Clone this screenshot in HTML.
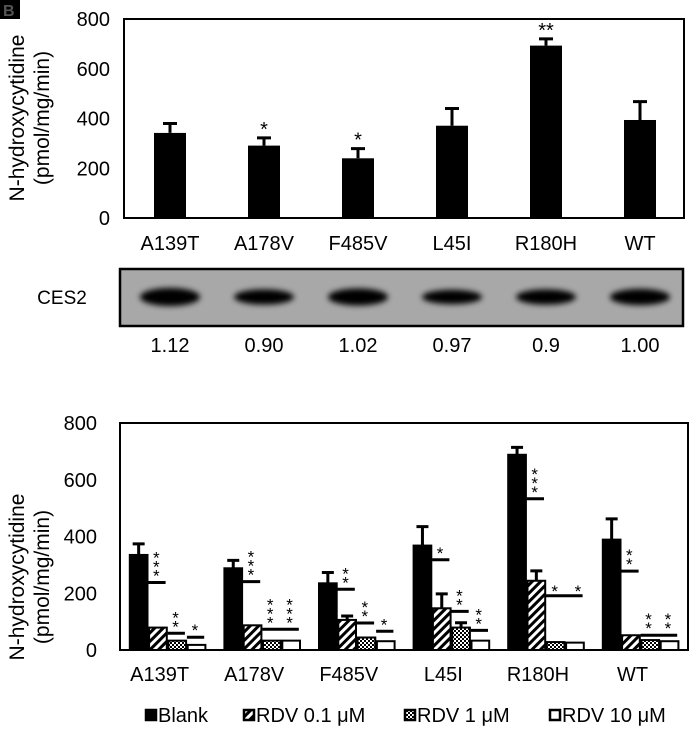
<!DOCTYPE html>
<html><head><meta charset="utf-8"><style>
body{margin:0;background:#fff;}
svg text{font-family:"Liberation Sans",sans-serif;}
</style></head><body>
<svg id="fig" width="690" height="728" viewBox="0 0 690 728" xmlns="http://www.w3.org/2000/svg">
<defs>
<pattern id="diag" width="6" height="6" patternUnits="userSpaceOnUse" patternTransform="rotate(45)">
<rect width="6" height="6" fill="#fff"/><rect width="3" height="6" fill="#000"/></pattern>
<pattern id="check" width="4" height="4" patternUnits="userSpaceOnUse">
<rect width="4" height="4" fill="#fff"/><rect width="2" height="2" fill="#000"/><rect x="2" y="2" width="2" height="2" fill="#000"/></pattern>
<filter id="blur" x="-30%" y="-80%" width="160%" height="260%"><feGaussianBlur stdDeviation="3"/></filter>
</defs>
<g>
<rect x="0" y="0" width="20" height="19" fill="#000"/>
<text x="3" y="16" font-size="16" font-weight="bold" fill="#555">B</text>
</g>
<text transform="translate(24,118) rotate(-90)" text-anchor="middle" font-size="21">N-hydroxycytidine</text>
<text transform="translate(49,118) rotate(-90)" text-anchor="middle" font-size="21">(pmol/mg/min)</text>
<rect x="124" y="19" width="560" height="199" fill="none" stroke="#000" stroke-width="2"/>
<g id="topG"></g>
<rect x="120" y="269" width="563" height="57" fill="#a8a8a8" stroke="#000" stroke-width="2.5"/>
<text x="62" y="304" text-anchor="middle" font-size="19">CES2</text>
<g id="blotG"></g>
<text transform="translate(24,577) rotate(-90)" text-anchor="middle" font-size="21">N-hydroxycytidine</text>
<text transform="translate(49,577) rotate(-90)" text-anchor="middle" font-size="21">(pmol/mg/min)</text>
<rect x="120" y="423" width="568" height="227" fill="none" stroke="#000" stroke-width="2"/>
<g id="botG"></g>
<g id="legG"></g>
</svg>
<script>
const categories=["A139T","A178V","F485V","L45I","R180H","WT"];
const yTicks=[0,200,400,600,800];
const topValues=[342,291,240,371,693,394];
const topErrors=[380,322,279,440,720,468];
const topStars=["","*","*","","**",""];
const blotValues=["1.12","0.90","1.02","0.97","0.9","1.00"];
const blotIntensity=[1.0,0.85,0.95,0.8,0.85,0.9];
const seriesNames=["Blank","RDV 0.1 μM","RDV 1 μM","RDV 10 μM"];
const blankValues=[335,288,235,368,688,389];
const blankErrors=[374,316,273,435,714,462];
const rdv01Values=[79,87,106,147,244,52];
const rdv01Errors=[79,87,120,198,279,52];
const rdv1Values=[33,33,44,79,28,35];
const rdv1Errors=[33,33,44,96,28,35];
const rdv10Values=[18,33,31,33,26,31];
// significance: [group, bar index, bars spanned, value, star text, vertical]
const sigMarks=[
[0,1,1,238,"***",1],[0,2,1,59,"**",1],[0,3,1,45,"*",1],
[1,1,1,241,"***",1],[1,2,2,73,"***",1],[1,3,0,73,"***",1],
[2,1,1,214,"**",1],[2,2,1,95,"**",1],[2,3,1,66,"*",1],
[3,1,1,318,"*",1],[3,2,1,136,"**",1],[3,3,1,69,"**",1],
[4,1,1,533,"***",1],[4,2,2,191,"* *",0],
[5,1,1,278,"**",1],[5,2,2,52,"**",1],[5,3,0,52,"**",1]
];
const NS="http://www.w3.org/2000/svg";
function mk(parent,tag,attrs,text){const e=document.createElementNS(NS,tag);for(const k in attrs)e.setAttribute(k,attrs[k]);if(text!==undefined)e.textContent=text;parent.appendChild(e);return e;}
const tY=v=>218-v*(199/800);
const tX=i=>170+i*94;
const topG=document.getElementById('topG');
yTicks.forEach(t=>{const e=mk(topG,'text',{x:110,y:tY(t)+7,'text-anchor':'end','font-size':20},t);

});
categories.forEach((c,i)=>{
const cx=tX(i);
const b=mk(topG,'rect',{x:cx-16,y:tY(topValues[i]),width:32,height:218-tY(topValues[i]),fill:'#000'});


const el=mk(topG,'path',{d:`M${cx} ${tY(topValues[i])}V${tY(topErrors[i])}M${cx-7} ${tY(topErrors[i])}H${cx+7}`,stroke:'#000','stroke-width':3,fill:'none'});


if(topStars[i]){const s=mk(topG,'text',{x:cx,y:tY(topErrors[i])-2,'text-anchor':'middle','font-size':20},topStars[i]);

}
const l=mk(topG,'text',{x:cx,y:250,'text-anchor':'middle','font-size':20},c);


const band=mk(document.getElementById('blotG'),'ellipse',{cx:cx,cy:297,rx:30,ry:9*blotIntensity[i],fill:'#000',filter:'url(#blur)'});


const n=mk(document.getElementById('blotG'),'text',{x:cx,y:352,'text-anchor':'middle','font-size':20},blotValues[i]);


});
const bY=v=>650-v*(227/800);
const bW=19.3;
const bX=(g,j)=>129+g*94.6+j*bW;
const botG=document.getElementById('botG');
yTicks.forEach(t=>{const e=mk(botG,'text',{x:97,y:bY(t)+7,'text-anchor':'end','font-size':20},t);

});
const fills=['#000','url(#diag)','url(#check)','#fff'];
const vals=[blankValues,rdv01Values,rdv1Values,rdv10Values];
const errs=[blankErrors,rdv01Errors,rdv1Errors,null];
categories.forEach((c,g)=>{
for(let j=0;j<4;j++){
const v=vals[j][g];const x=bX(g,j);
const r=mk(botG,'rect',{x:x+0.8,y:bY(v),width:bW-1.6,height:650-bY(v),fill:fills[j],stroke:'#000','stroke-width':2});


if(errs[j]&&errs[j][g]>v){const cx=x+bW/2;
const e=mk(botG,'path',{d:`M${cx} ${bY(v)}V${bY(errs[j][g])}M${cx-6} ${bY(errs[j][g])}H${cx+6}`,stroke:'#000','stroke-width':3,fill:'none'});

}
}
const l=mk(botG,'text',{x:bX(g,0)+2*bW-8,y:681,'text-anchor':'middle','font-size':20},c);


});
sigMarks.forEach(m=>{
const [g,j,span,v,txt,vert]=m;const x=bX(g,j);const y=bY(v);
if(span>0){const ln=mk(botG,'line',{x1:x,x2:x+span*bW-2,y1:y,y2:y,stroke:'#000','stroke-width':3});

}
const cx=x+8;
if(vert){for(let k=0;k<txt.length;k++){const s=mk(botG,'text',{x:cx,y:y+8-(txt.length-k)*9,'text-anchor':'middle','font-size':17},'*');

}}
else{const s=mk(botG,'text',{x:x+span*bW/2+4,y:y+1,'text-anchor':'middle','font-size':17,'letter-spacing':'6'},txt);

}
});
const legG=document.getElementById('legG');
const legX=[145,243,404,549];
seriesNames.forEach((n,i)=>{
const sw=mk(legG,'rect',{x:legX[i]+1,y:710,width:10,height:10,fill:fills[i],stroke:'#000','stroke-width':2.5});


const t=mk(legG,'text',{x:legX[i]+13,y:722,'font-size':20},n);


});
</script>
</body></html>
